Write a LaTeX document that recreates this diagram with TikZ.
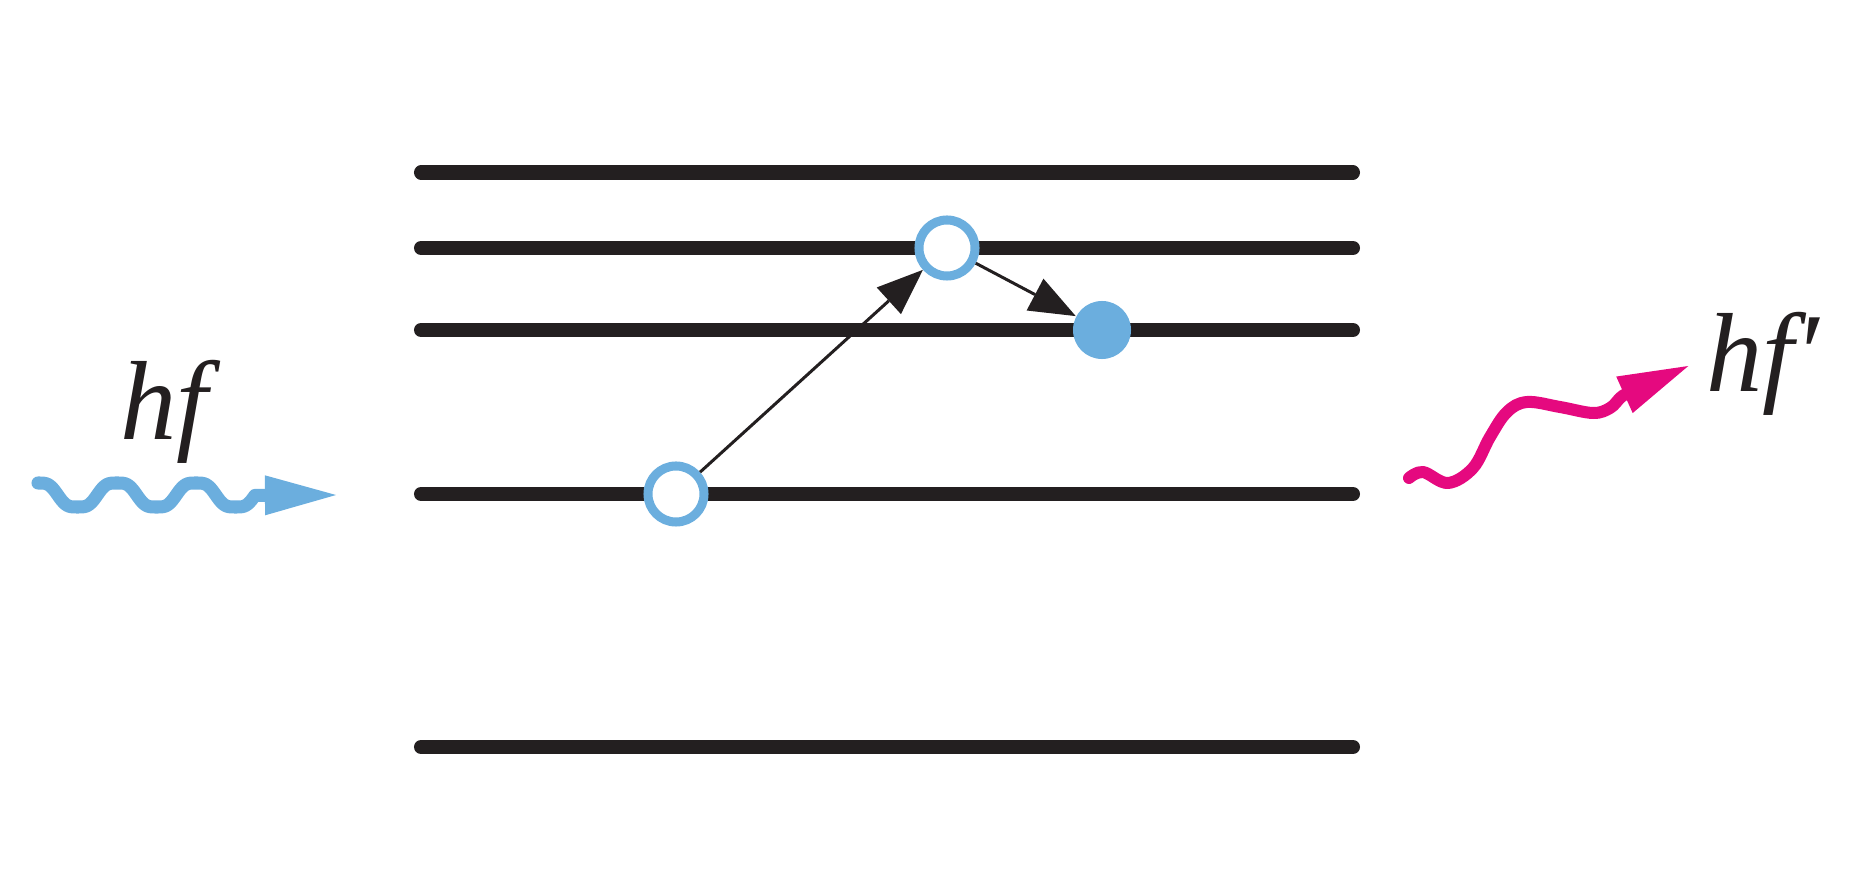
\documentclass[tikz,border=0pt]{standalone}
\usepackage{fontspec}
\setmainfont{Liberation Serif}
\usetikzlibrary{arrows.meta}
\definecolor{lvlblack}{HTML}{231F20}
\definecolor{eblue}{HTML}{6BAEDE}
\definecolor{phpink}{HTML}{E5097F}
\begin{document}
\begin{tikzpicture}[x=0.01cm,y=-0.01cm,
  level/.style={draw=lvlblack, line width=0.14cm, line cap=round},
  hole/.style={circle, draw=eblue, fill=white, line width=0.09cm, minimum size=0.56cm, inner sep=0pt},
  electron/.style={circle, fill=eblue, minimum size=0.58cm, inner sep=0pt},
  jump/.style={draw=lvlblack, line width=0.03cm, -{Triangle[length=0.46cm, width=0.36cm, line width=0pt]}},
  photonlabel/.style={font=\fontsize{32}{32}\selectfont\itshape, text=lvlblack, anchor=base west, inner sep=0pt},
  bluephoton/.style={draw=eblue, line width=0.13cm, line cap=round, line join=round, -{Triangle[length=0.71cm, width=0.40cm, line width=0pt]}},
  pinkphoton/.style={draw=phpink, line width=0.12cm, line cap=round, line join=round, -{Triangle[length=0.70cm, width=0.40cm, line width=0pt]}}
]
\useasboundingbox (0,0) rectangle (1853,888);
% energy levels
\coordinate (L1w) at (421,172.5); \coordinate (L1e) at (1353,172.5);
\coordinate (L2w) at (421,248);   \coordinate (L2e) at (1353,248);
\coordinate (L3w) at (421,330);   \coordinate (L3e) at (1353,330);
\coordinate (L4w) at (421,494);   \coordinate (L4e) at (1353,494);
\coordinate (L5w) at (421,747);   \coordinate (L5e) at (1353,747);
\draw[level] (L1w) -- (L1e);
\draw[level] (L2w) -- (L2e);
\draw[level] (L3w) -- (L3e);
\draw[level] (L4w) -- (L4e);
\draw[level] (L5w) -- (L5e);
% electrons / holes
\node[hole] (c1) at (676,494) {};
\node[hole] (c2) at (947,248) {};
\node[electron] (c3) at (1102,330) {};
\draw[jump] (c1) -- (c2);
\draw[jump] (c2) -- (c3);
% incoming photon
\coordinate (bluetip) at (336,495);
\draw[bluephoton] plot[domain=0:217, samples=120, smooth] ({\x+38},{495-13.5*(cos(4.557*\x)-cos(13.671*\x)/9)}) -- (bluetip);
\node[photonlabel] (hf) at (120,440) {hf};
% outgoing photon
\coordinate (pinktip) at (1688.3,366);
\draw[pinkphoton] plot[smooth, tension=0.6] coordinates {(1409,478) (1423,472) (1448,483) (1473,468) (1490,437) (1507,412) (1527,402) (1560,407) (1593,413) (1610,408) (1620,398) (1624,395)} -- (pinktip);
\node[photonlabel] (hfp) at (1706,392) {hf′};
\end{tikzpicture}
\end{document}
